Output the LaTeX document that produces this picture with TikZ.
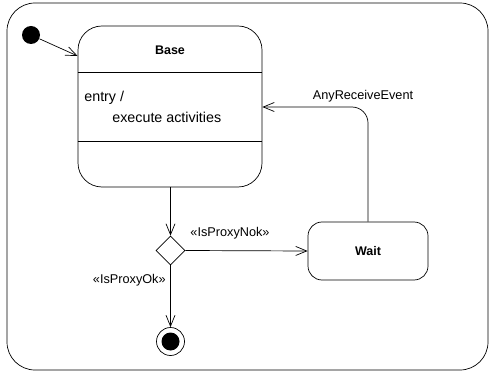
\documentclass[tikz,border=0pt]{standalone}
\usepackage{fontspec}
\setmainfont{Liberation Sans}
\usetikzlibrary{arrows.meta,positioning,shapes.geometric}

\begin{document}
\begin{tikzpicture}[
  x=1pt, y=-1pt,
  line width=0.7pt,
  statebox/.style={draw, rounded corners=24pt, inner sep=0pt},
  waitbox/.style={draw, rounded corners=14pt, minimum width=120pt, minimum height=58pt, font=\fontsize{12.5}{14}\selectfont\bfseries},
  choice/.style={draw, diamond, minimum size=29pt, inner sep=0pt, aspect=1},
  lbl/.style={font=\fontsize{12.7}{15}\selectfont, inner sep=1pt},
  body/.style={font=\fontsize{14.3}{17}\selectfont, inner sep=0pt, anchor=west},
  arr/.style={-{Straight Barb[length=11pt, width=9pt]}}
]
  \useasboundingbox (0,0) rectangle (489,371);
  \draw[rounded corners=28pt] (7,3) rectangle (488,370);

  % states
  \node[fill=black, circle, minimum size=18pt, inner sep=0pt] (init) at (31,35) {};
  \node[statebox, minimum width=184pt, minimum height=161pt] (base) at (170,106.5) {};
  \node[font=\fontsize{12.5}{14}\selectfont\bfseries] (basename) at (170,50) {Base};
  \coordinate (sepa) at (0,72);
  \coordinate (sepb) at (0,141);
  \draw (base.west |- sepa) -- (base.east |- sepa);
  \draw (base.west |- sepb) -- (base.east |- sepb);
  \node[body] (entry) at (84,98) {entry /};
  \node[body] (exec) at (112,117) {execute activities};

  \node[choice] (proxy) at (170.5,250.5) {};
  \node[waitbox] (wait) at (368,251) {Wait};
  \node[draw, circle, minimum size=28pt, inner sep=0pt] (final) at (170.5,341.5) {};
  \fill (final.center) circle (9pt);

  % transitions
  \coordinate (entrypt) at (0,56);
  \coordinate (recvpt) at (0,107);
  \draw[arr] (init) -- (base.west |- entrypt);
  \draw[arr] (base.south -| proxy.north) -- (proxy.north);
  \draw[arr] (proxy.east) -- (wait.west);
  \draw[arr] (proxy.south) -- (final.north);
  \draw[arr, rounded corners=16pt] (wait.north) |- (base.east |- recvpt);

  % guards
  \node[lbl] (nok) at (230,233) {«IsProxyNok»};
  \node[lbl, anchor=east] (ok) at (167,280) {«IsProxyOk»};
  \node[lbl] (recv) at (363,96) {AnyReceiveEvent};
\end{tikzpicture}
\end{document}
